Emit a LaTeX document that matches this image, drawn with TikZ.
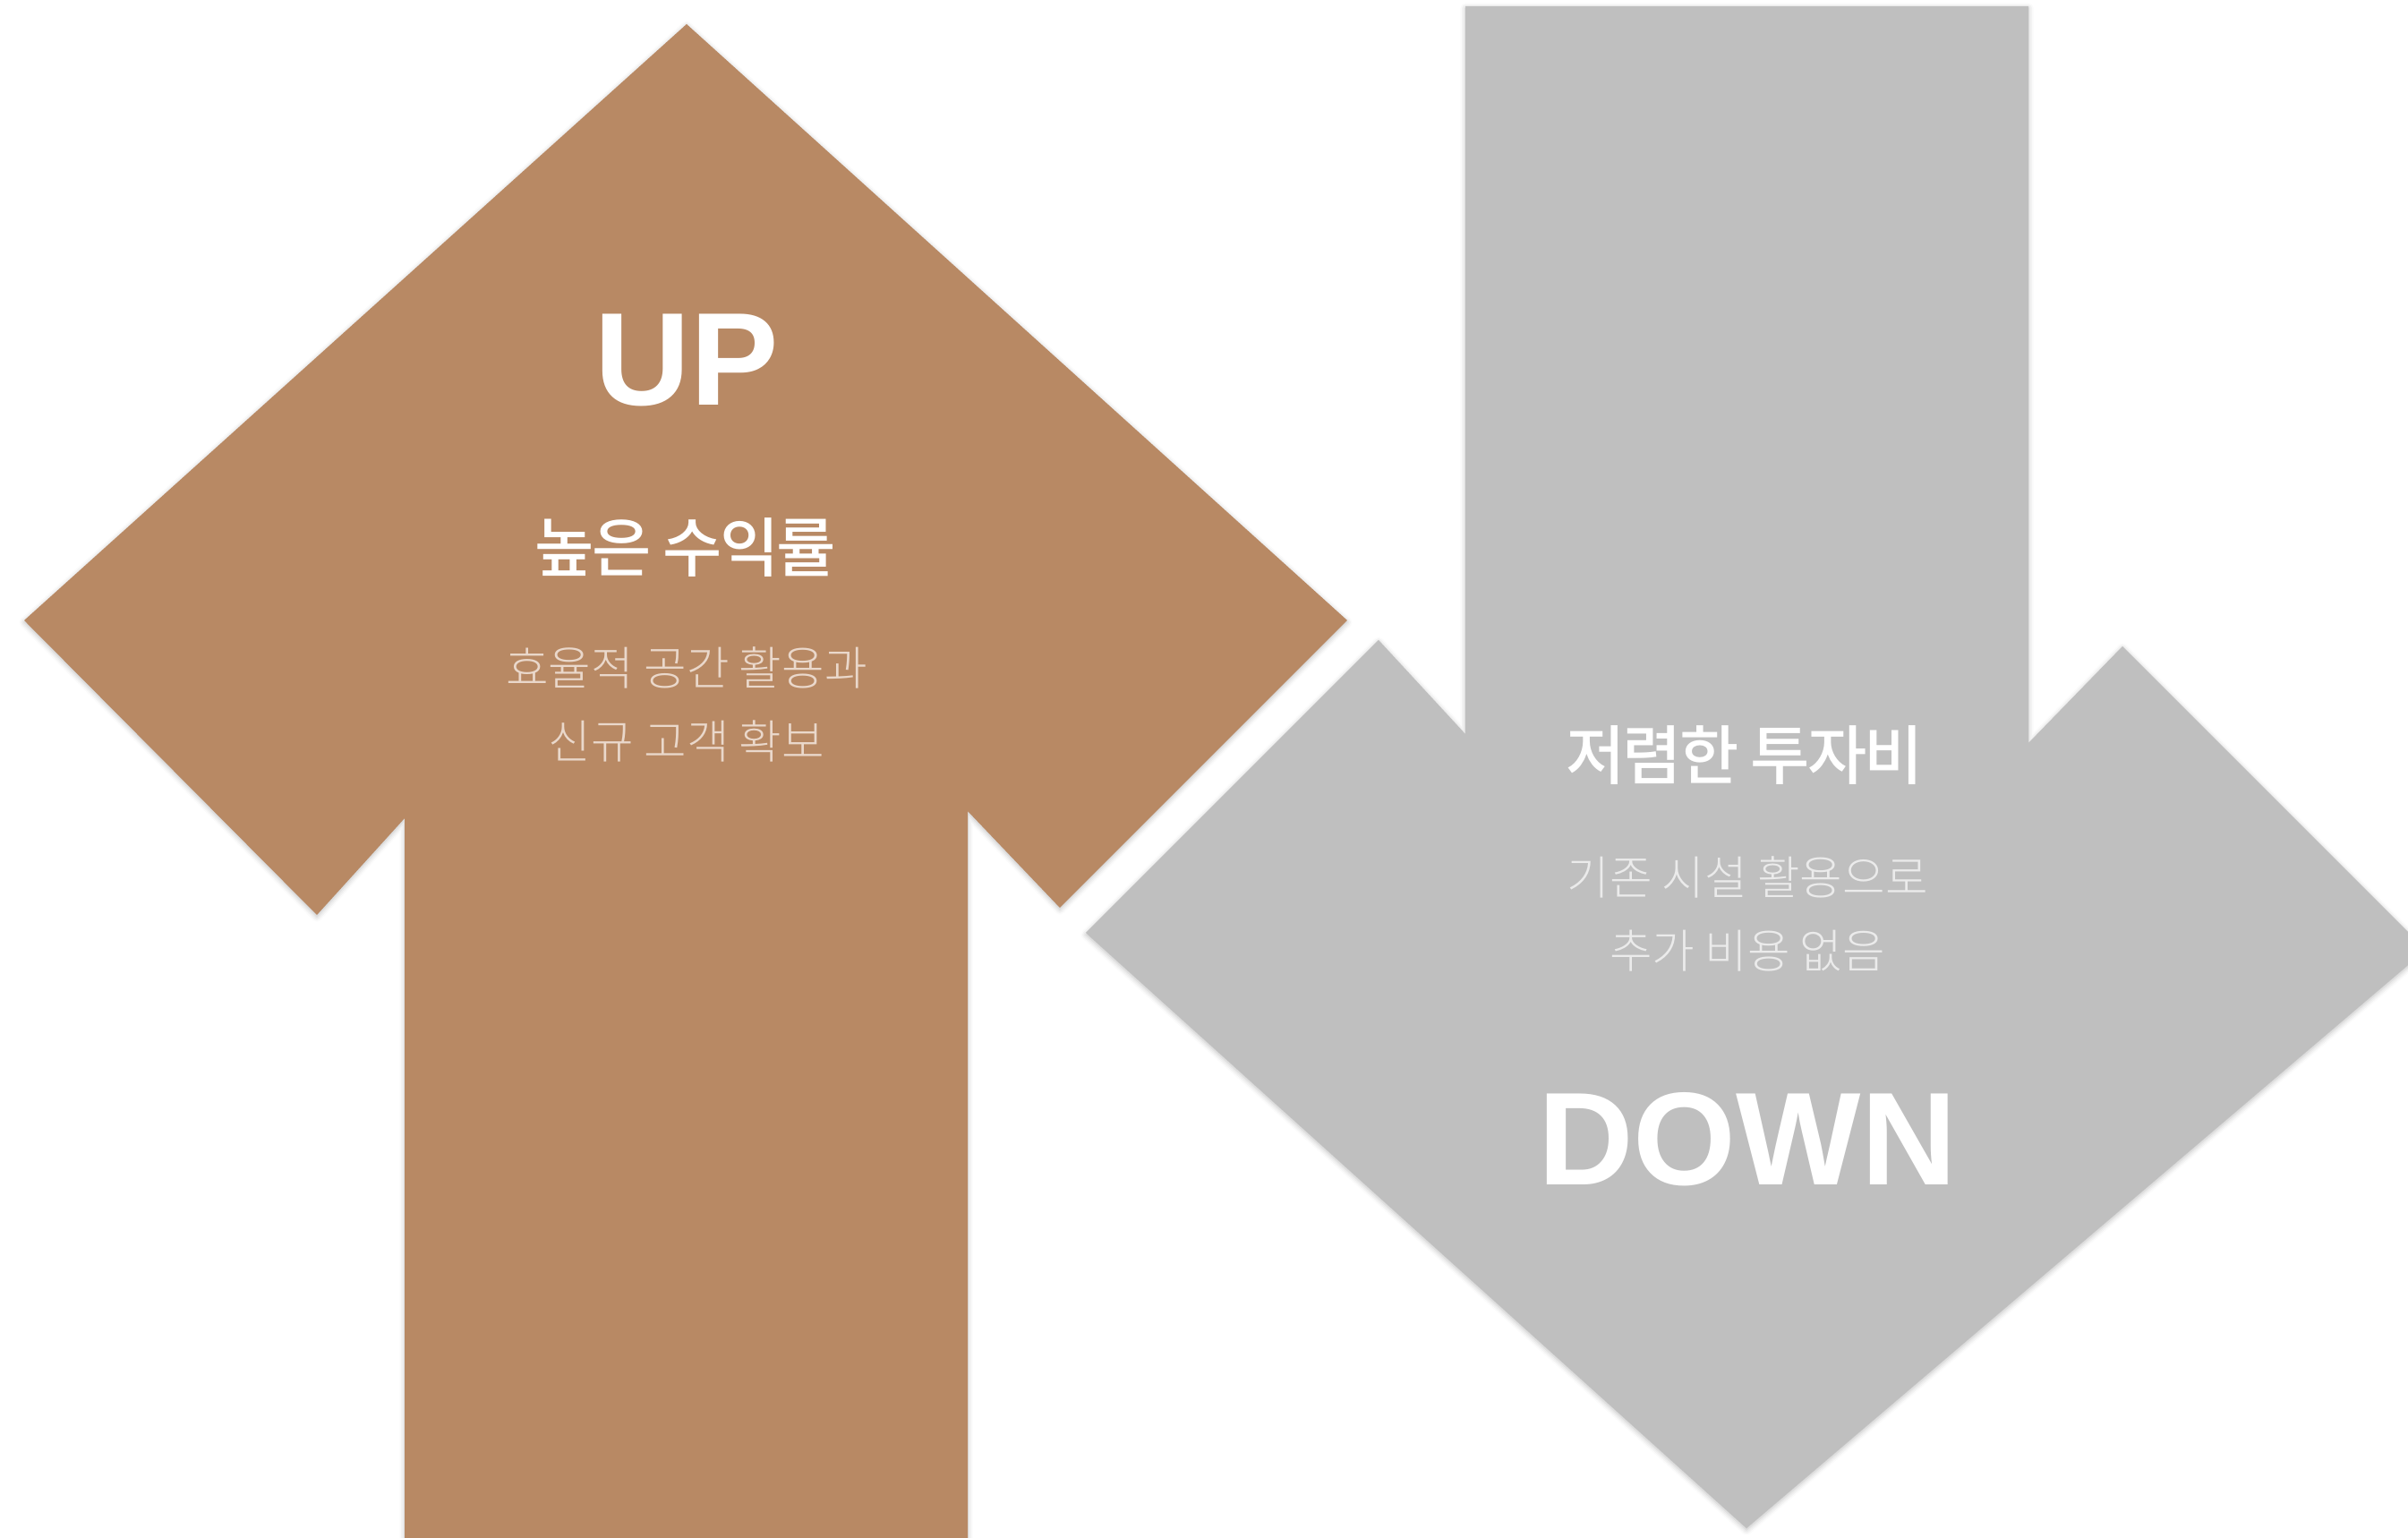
\documentclass[tikz,border=0pt]{standalone}
\usepackage{fontspec}
\setmainfont{Liberation Sans}
\IfFontExistsTF{Noto Sans CJK KR Medium}
  {\newfontfamily\krhead{Noto Sans CJK KR Medium}[LetterSpace=-4]}
  {\newfontfamily\krhead{Noto Sans CJK KR}[LetterSpace=-4]}
\IfFontExistsTF{Noto Sans CJK KR Light}
  {\newfontfamily\krsub{Noto Sans CJK KR Light}}
  {\newfontfamily\krsub{Noto Sans CJK KR}}
\usepackage{tikz}
\usetikzlibrary{shadows.blur}
\usepackage{tkz-euclide}
\definecolor{upbrown}{HTML}{B88964}
\definecolor{downgrey}{HTML}{BFBFBF}
\definecolor{upsub}{HTML}{EAD8CB}
\definecolor{downsub}{HTML}{EBEBEB}

\begin{document}
\begin{tikzpicture}[
  arrowbody/.style={blur shadow={shadow xshift=0pt,shadow yshift=-0.6pt,
      shadow blur radius=1.6pt,shadow opacity=25}},
  bigword/.style={text=white,font=\bfseries\fontsize{42}{42}\selectfont},
  headline/.style={text=white,font=\krhead\fontsize{20.5}{24}\selectfont},
  subline/.style={align=center,font=\krsub\fontsize{14.7}{23.4}\selectfont}]
\useasboundingbox (0,0) rectangle (26.9,17.18);
\tkzDefPoints{7.67/16.91/A,0.27/10.25/B,3.54/6.96/C,4.52/8.04/D,4.52/-0.2/E,
  10.81/-0.2/F,10.81/8.12/G,11.84/7.04/H,15.05/10.25/I}
\tkzDefPoints{16.37/17.11/P,22.66/17.11/Q,22.66/8.88/R,23.71/9.96/S,27.1/6.57/T,
  19.51/0.11/U,12.13/6.76/V,15.40/10.03/W,16.37/8.98/X}
\fill[upbrown,arrowbody](A)--(B)--(C)--(D)--(E)--(F)--(G)--(H)--(I)--cycle;
\fill[downgrey,arrowbody](P)--(Q)--(R)--(S)--(T)--(U)--(V)--(W)--(X)--cycle;
\node[bigword](upword)at(7.67,13.16){UP};
\node[headline](uphead)at(7.66,11.06){높은 수익률};
\node[subline,text=upsub](upsubs)at(7.67,9.31){효율적 공간 활용과\\신규 고객 확보};
\node[headline](downhead)at(19.49,8.74){저렴한 투자비};
\node[subline,text=downsub](downsubs)at(19.52,6.97){기존 시설 활용으로\\추가 비용 없음};
\node[bigword](downword)at(19.52,4.45){DOWN};
\end{tikzpicture}
\end{document}
